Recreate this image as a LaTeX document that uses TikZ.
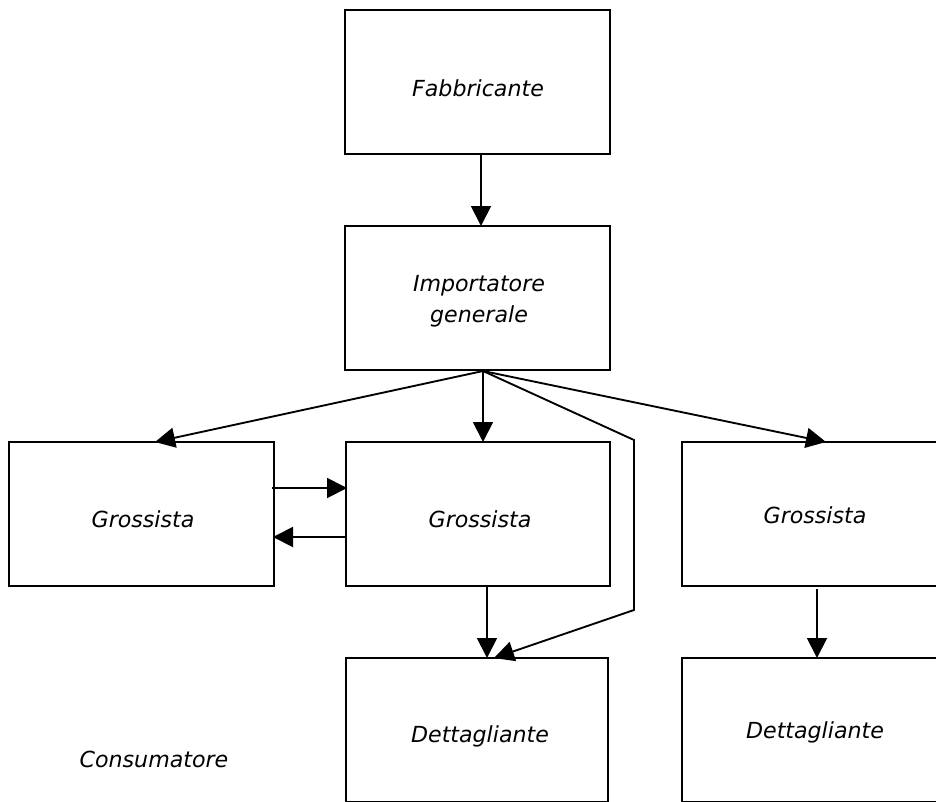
\documentclass[tikz,border=0pt]{standalone}
\usepackage{fontspec}
\setmainfont{DejaVu Sans}
\usetikzlibrary{arrows.meta,calc}
\begin{document}
\begin{tikzpicture}[x=0.75pt,y=-0.75pt,
  box/.style={draw=black,line width=1.7pt,rectangle,minimum width=265*0.75pt,minimum height=144*0.75pt,inner sep=0pt,outer sep=0pt},
  lbl/.style={font=\fontsize{16.6}{19}\selectfont\itshape,inner sep=0pt,anchor=base},
  arr/.style={draw=black,line width=1.4pt,-{Triangle[length=15pt,width=15pt]}}]
\useasboundingbox (0,0) rectangle (936,801);
\clip (0,0) rectangle (936,801);
% boxes
\node[box] (fab) at (477.5,82) {};
\node[box] (imp) at (477.5,298) {};
\node[box] (g1) at (141.5,514) {};
\node[box,minimum width=264*0.75pt] (g2) at (478,514) {};
\node[box] (g3) at (814.5,514) {};
\node[box,minimum width=262*0.75pt] (d2) at (477,730) {};
\node[box] (d3) at (814.5,730) {};
% labels
\node[lbl] (tfab) at (478,96) {Fabbricante};
\node[lbl] (timp1) at (479,291) {Importatore};
\node[lbl] (timp2) at (479,322) {generale};
\node[lbl] (tg1) at (143,527) {Grossista};
\node[lbl] (tg2) at (480,527) {Grossista};
\node[lbl] (tg3) at (815,523) {Grossista};
\node[lbl] (td2) at (480,742) {Dettagliante};
\node[lbl] (td3) at (815,738) {Dettagliante};
\node[lbl] (tcons) at (154,767) {Consumatore};
% connectors
\coordinate (hub) at ($(imp.south)+(5.5,1)$);
\coordinate (bend1) at (634,440);
\coordinate (bend2) at (634,610);
\draw[arr] ($(fab.south)+(3.5,0)$) -- ($(imp.north)+(3.5,0)$);
\draw[arr] (hub) -- ($(g1.north)+(13.5,0)$);
\draw[arr] (hub) -- ($(g2.north)+(5,0)$);
\draw[arr] (hub) -- ($(g3.north)+(11.5,0)$);
\draw[arr] (hub) -- (bend1) -- (bend2) -- ($(d2.north)+(17,0)$);
\draw[arr] ($(g2.south)+(9,0)$) -- ($(d2.north)+(10,0)$);
\draw[arr] ($(g3.south)+(2.5,3)$) -- ($(d3.north)+(2.5,0)$);
\draw[arr] ($(g1.east)+(-2,-26)$) -- ($(g2.west)+(1,-26)$);
\draw[arr] ($(g2.west)+(1,23)$) -- ($(g1.east)+(-1,23)$);
\end{tikzpicture}
\end{document}
